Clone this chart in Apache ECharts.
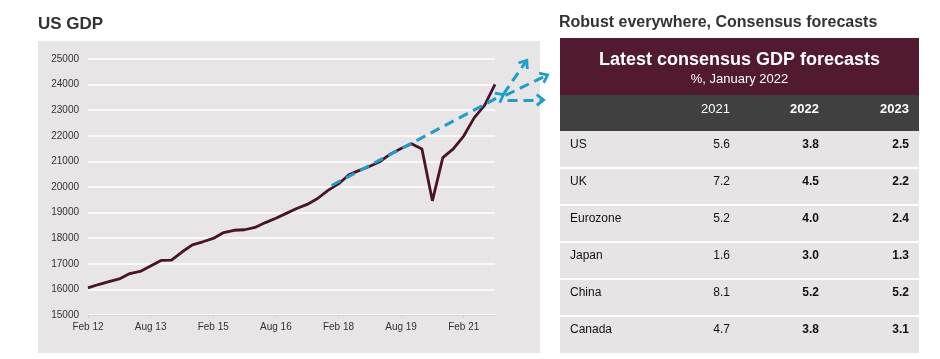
<!DOCTYPE html>
<html>
<head>
<meta charset="utf-8">
<script src="https://cdn.jsdelivr.net/npm/echarts@6/dist/echarts.min.js"></script>
<style>
html,body{margin:0;padding:0;background:#fff;}
#chart{width:940px;height:359px;}
</style>
</head>
<body>
<div id="chart"></div>
<script>
// ---- Data ----
const quarters = ['Feb 12','May 12','Aug 12','Nov 12','Feb 13','May 13','Aug 13','Nov 13',
  'Feb 14','May 14','Aug 14','Nov 14','Feb 15','May 15','Aug 15','Nov 15',
  'Feb 16','May 16','Aug 16','Nov 16','Feb 17','May 17','Aug 17','Nov 17',
  'Feb 18','May 18','Aug 18','Nov 18','Feb 19','May 19','Aug 19','Nov 19',
  'Feb 20','May 20','Aug 20','Nov 20','Feb 21','May 21','Aug 21','Nov 21'];
const usGdp = [16060, 16190, 16300, 16410, 16620, 16700, 16910, 17130,
  17140, 17460, 17740, 17860, 17990, 18220, 18310, 18330,
  18420, 18610, 18780, 18970, 19160, 19320, 19550, 19870,
  20120, 20480, 20650, 20810, 21000, 21290, 21500, 21690,
  21480, 19460, 21150, 21490, 21990, 22700, 23190, 24010];
const yTicks = {min: 15000, max: 25000, step: 1000};
// forecast arrows: [startIndex, startValue, endIndex, endValue]
const trendArrow = [23.35, 20060, 39.57, 23560];
const scenarioArrows = [
  [39.8, 23620, 41.9, 24860],
  [40.0, 23580, 43.8, 24330],
  [40.2, 23400, 43.4, 23400]
];
// table
const tableYears = ['2021', '2022', '2023'];
const countries = ['US', 'UK', 'Eurozone', 'Japan', 'China', 'Canada'];
const f2021 = ['5.6', '7.2', '5.2', '1.6', '8.1', '4.7'];
const f2022 = ['3.8', '4.5', '4.0', '3.0', '5.2', '3.8'];
const f2023 = ['2.5', '2.2', '2.4', '1.3', '5.2', '3.1'];

// ---- Layout / style ----
const FONT = '"Liberation Sans", Arial, Helvetica, sans-serif';
const MAROON_LINE = '#4b1329';
const BLUE = '#1c9fc7';
const gridLeft = 88, gridTop = 59, gridW = 407, gridH = 256;
const arrowXMax = 45;

const chevron = 'path://M5,0 L10,8 L8.2,9.6 L5,4.4 L1.8,9.6 L0,8 Z';

function arrowData(a) {
  return [{coord: [a[0], a[1]]}, {coord: [a[2], a[3]]}];
}

function txt(x, y, text, font, fill, align) {
  return {type: 'text', x: x, y: y, style: {text: text, font: font, fill: fill,
    textAlign: align, textVerticalAlign: 'middle', align: align, verticalAlign: 'middle'}};
}

// Table graphics
const tX = 560, tW = 359;
const graphics = [];
graphics.push({type: 'rect', z: -10, shape: {x: 38, y: 41, width: 502, height: 312}, style: {fill: '#e7e5e6'}});
graphics.push(txt(38, 24, 'US GDP', 'bold 17px ' + FONT, '#333', 'left'));
graphics.push(txt(559, 23, 'Robust everywhere, Consensus forecasts', 'bold 16px ' + FONT, '#333', 'left'));
graphics.push({type: 'rect', shape: {x: tX, y: 38, width: tW, height: 57}, style: {fill: '#521a31'}});
graphics.push({type: 'rect', shape: {x: tX, y: 95, width: tW, height: 36}, style: {fill: '#404040'}});
graphics.push({type: 'rect', shape: {x: tX, y: 131, width: tW, height: 222}, style: {fill: '#e6e4e5'}});
graphics.push(txt(tX + tW / 2, 60, 'Latest consensus GDP forecasts', 'bold 18px ' + FONT, '#fff', 'center'));
graphics.push(txt(tX + tW / 2, 79, '%, January 2022', '13px ' + FONT, '#fff', 'center'));
const colRight = [730, 819, 909];
tableYears.forEach(function (yr, i) {
  graphics.push(txt(colRight[i], 109, yr, (i === 0 ? '' : 'bold ') + '13px ' + FONT, '#fff', 'right'));
});
const rowH = 37, rowTop = 131;
countries.forEach(function (c, r) {
  const top = rowTop + r * rowH;
  if (r > 0) {
    graphics.push({type: 'rect', shape: {x: tX, y: top - 1, width: tW, height: 2}, style: {fill: '#ffffff'}});
  }
  const ty = top + 14;
  graphics.push(txt(570, ty, c, '12px ' + FONT, '#111', 'left'));
  [f2021[r], f2022[r], f2023[r]].forEach(function (v, i) {
    graphics.push(txt(colRight[i], ty, v, (i === 0 ? '' : 'bold ') + '12px ' + FONT, '#111', 'right'));
  });
});

const chart = echarts.init(document.getElementById('chart'), null, {renderer: 'canvas'});
chart.setOption({
  animation: false,
  backgroundColor: '#ffffff',
  textStyle: {fontFamily: FONT},
  graphic: {elements: graphics},
  grid: [
    {left: gridLeft, top: gridTop, width: gridW, height: gridH},
    {left: gridLeft, top: gridTop, width: gridW * arrowXMax / (quarters.length - 1), height: gridH}
  ],
  xAxis: [
    {
      type: 'category', gridIndex: 0, data: quarters, boundaryGap: false,
      axisLine: {lineStyle: {color: '#d6d4d5', width: 1}},
      axisTick: {show: true, interval: 5, length: 3, lineStyle: {color: '#d6d4d5'}},
      axisLabel: {interval: 5, color: '#333', fontSize: 10, margin: 7, fontFamily: FONT},
      splitLine: {show: false}
    },
    {type: 'value', gridIndex: 1, min: 0, max: arrowXMax, show: false, splitLine: {show: false}}
  ],
  yAxis: [
    {
      type: 'value', gridIndex: 0, min: yTicks.min, max: yTicks.max, interval: yTicks.step,
      axisLine: {show: false}, axisTick: {show: false},
      axisLabel: {color: '#333', fontSize: 10, margin: 9, fontFamily: FONT,
        formatter: function (v) { return String(v); }},
      splitLine: {lineStyle: {color: '#ffffff', width: 1.5}}
    },
    {type: 'value', gridIndex: 1, min: yTicks.min, max: yTicks.max, show: false, splitLine: {show: false}}
  ],
  series: [
    {
      type: 'line', xAxisIndex: 0, yAxisIndex: 0, data: usGdp,
      symbol: 'none', lineStyle: {color: MAROON_LINE, width: 2.8}, z: 3
    },
    {
      type: 'line', xAxisIndex: 1, yAxisIndex: 1, data: [], z: 4,
      markLine: {
        silent: true, animation: false,
        symbol: ['none', chevron], symbolSize: [13, 10],
        label: {show: false},
        lineStyle: {color: BLUE, width: 3, type: [10, 6]},
        itemStyle: {color: BLUE},
        data: [arrowData(trendArrow)].concat(scenarioArrows.map(arrowData))
      }
    }
  ]
});
</script>
</body>
</html>
